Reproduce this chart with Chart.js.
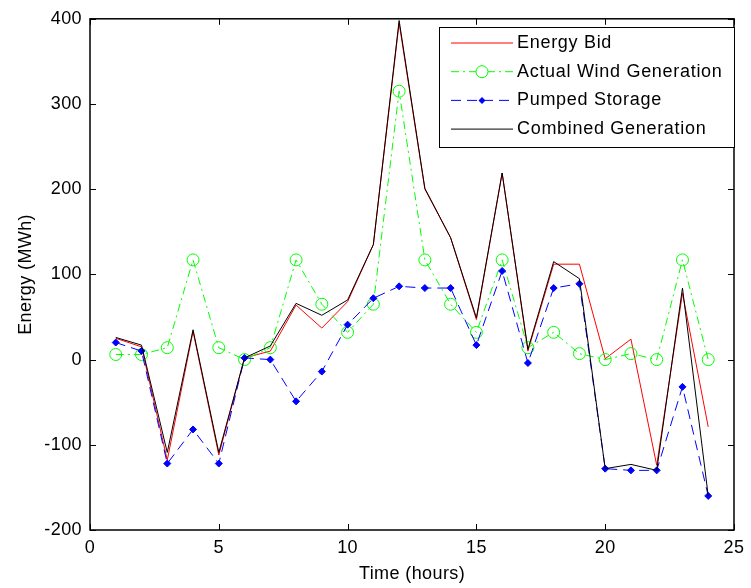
<!DOCTYPE html>
<html>
<head>
<meta charset="utf-8">
<script src="https://cdn.jsdelivr.net/npm/chart.js@4"></script>
<style>
  html, body { margin: 0; padding: 0; background: #fff; }
  #wrap { width: 751px; height: 588px; }
</style>
</head>
<body>
<div id="wrap"><canvas id="myChart" width="751" height="588"></canvas></div>
<script>
const hours = [1, 2, 3, 4, 5, 6, 7, 8, 9, 10, 11, 12, 13, 14, 15, 16, 17, 18, 19, 20, 21, 22, 23, 24];
const energyBid = [25, 15, -118, 33, -112, 2, 10, 64, 37, 68, 135, 395, 200, 143, 47, 219, 10, 112, 112, 1, 24, -124, 78, -79];
const windGen = [6, 6, 14, 117, 14, 0, 14, 117, 65, 32, 65, 315, 117, 65, 32, 117, 14, 32, 7, 0, 7, 0, 117, 0];
const pumped = [20, 10, -122, -82, -122, 2, 0, -49, -14, 41, 72, 86, 84, 84, 17, 104, -4, 84, 89, -128, -130, -130, -32, -160];
const combined = [26, 17, -109, 35, -109, 2, 16, 66, 52, 70, 135, 398, 201, 143, 49, 219, 12, 115, 95, -128, -123, -130, 84, -160];

const xTicks = [0, 5, 10, 15, 20, 25];
const yTicks = [-200, -100, 0, 100, 200, 300, 400];
const seriesNames = ['Energy Bid', 'Actual Wind Generation', 'Pumped Storage', 'Combined Generation'];

const font = "'Liberation Sans', Arial, sans-serif";

const pts = vals => hours.map((h, i) => ({ x: h, y: vals[i] }));

// a bit wider text, like the matlab screen font
const spacing = {
  id: 'spacing',
  beforeDraw(chart) { chart.ctx.letterSpacing = '0.4px'; }
};

// box + inward ticks like matlab
const boxTicks = {
  id: 'boxTicks',
  afterDatasetsDraw(chart) {
    const { ctx, chartArea: a, scales: { x, y } } = chart;
    ctx.save();
    ctx.strokeStyle = '#000';
    ctx.lineWidth = 1;
    ctx.beginPath();
    xTicks.forEach(v => {
      const px = Math.round(x.getPixelForValue(v)) + 0.5;
      ctx.moveTo(px, a.bottom); ctx.lineTo(px, a.bottom - 6);
      ctx.moveTo(px, a.top); ctx.lineTo(px, a.top + 6);
    });
    yTicks.forEach(v => {
      const py = Math.round(y.getPixelForValue(v)) + 0.5;
      ctx.moveTo(a.left, py); ctx.lineTo(a.left + 6, py);
      ctx.moveTo(a.right, py); ctx.lineTo(a.right - 6, py);
    });
    ctx.stroke();
    ctx.lineWidth = 1.5;
    ctx.strokeRect(a.left, a.top, a.right - a.left, a.bottom - a.top);
    ctx.restore();
  }
};

const insideLegend = {
  id: 'insideLegend',
  afterDraw(chart) {
    const ctx = chart.ctx;
    const bx = 439, by = 27, bw = 295, bh = 120;
    ctx.save();
    ctx.fillStyle = '#fff';
    ctx.fillRect(bx, by, bw, bh);
    ctx.strokeStyle = '#000';
    ctx.lineWidth = 1;
    ctx.strokeRect(bx + 0.5, by + 0.5, bw, bh);
    ctx.font = '18px ' + font;
    ctx.letterSpacing = '0.7px';
    ctx.textBaseline = 'middle';
    chart.data.datasets.forEach((ds, i) => {
      const ly = by + 16 + i * 28.7;
      ctx.strokeStyle = ds.borderColor;
      ctx.lineWidth = 1;
      ctx.setLineDash(ds.borderDash || []);
      ctx.beginPath();
      ctx.moveTo(451, ly); ctx.lineTo(513, ly);
      ctx.stroke();
      ctx.setLineDash([]);
      if (ds.pointRadius > 0) {
        ctx.beginPath();
        if (ds.pointStyle === 'circle') {
          ctx.arc(482, ly, ds.pointRadius, 0, Math.PI * 2);
          ctx.fillStyle = '#fff';
          ctx.fill();
          ctx.stroke();
        } else {
          const r = ds.pointRadius;
          ctx.moveTo(482, ly - r); ctx.lineTo(482 + r, ly);
          ctx.lineTo(482, ly + r); ctx.lineTo(482 - r, ly);
          ctx.closePath();
          ctx.fillStyle = ds.borderColor;
          ctx.fill();
        }
      }
      ctx.fillStyle = '#000';
      ctx.fillText(ds.label, 517, ly);
    });
    ctx.restore();
  }
};

new Chart(document.getElementById('myChart'), {
  type: 'line',
  data: {
    datasets: [{
      label: seriesNames[0],
      data: pts(energyBid),
      borderColor: '#ff0000',
      borderWidth: 1,
      pointRadius: 0,
      order: 4
    }, {
      label: seriesNames[1],
      data: pts(windGen),
      borderColor: '#00ff00',
      borderWidth: 1,
      borderDash: [8, 4, 2, 4],
      pointStyle: 'circle',
      pointRadius: 6,
      pointBackgroundColor: 'rgba(0,0,0,0)',
      pointBorderColor: '#00ff00',
      pointBorderWidth: 1,
      order: 3
    }, {
      label: seriesNames[2],
      data: pts(pumped),
      borderColor: '#0000ff',
      borderWidth: 1,
      borderDash: [10, 6],
      pointStyle: 'rectRot',
      pointRadius: 3.5,
      pointBackgroundColor: '#0000ff',
      pointBorderColor: '#0000ff',
      order: 2
    }, {
      label: seriesNames[3],
      data: pts(combined),
      borderColor: '#000000',
      borderWidth: 1,
      pointRadius: 0,
      order: 1
    }]
  },
  options: {
    responsive: false,
    animation: false,
    layout: { padding: { top: 15, right: 10, left: 0, bottom: 0 } },
    plugins: { legend: { display: false }, tooltip: { enabled: false } },
    scales: {
      x: {
        type: 'linear',
        min: 0, max: 25,
        afterFit: s => { s.height = 58; },
        afterBuildTicks: s => { s.ticks = xTicks.map(v => ({ value: v })); },
        grid: { display: false, drawTicks: false },
        border: { display: false },
        ticks: { color: '#000', font: { family: font, size: 18 }, padding: 7, maxRotation: 0 },
        title: { display: true, text: 'Time (hours)', color: '#000', font: { family: font, size: 18 }, padding: { top: 0, bottom: 3 } }
      },
      y: {
        min: -200, max: 400,
        afterFit: s => { s.width = 90; },
        afterBuildTicks: s => { s.ticks = yTicks.map(v => ({ value: v })); },
        grid: { display: false, drawTicks: false },
        border: { display: false },
        ticks: { color: '#000', font: { family: font, size: 18 }, padding: 8 },
        title: { display: true, text: 'Energy (MWh)', color: '#000', font: { family: font, size: 18 }, padding: { top: 15, bottom: 0 } }
      }
    }
  },
  plugins: [spacing, boxTicks, insideLegend]
});
</script>
</body>
</html>
